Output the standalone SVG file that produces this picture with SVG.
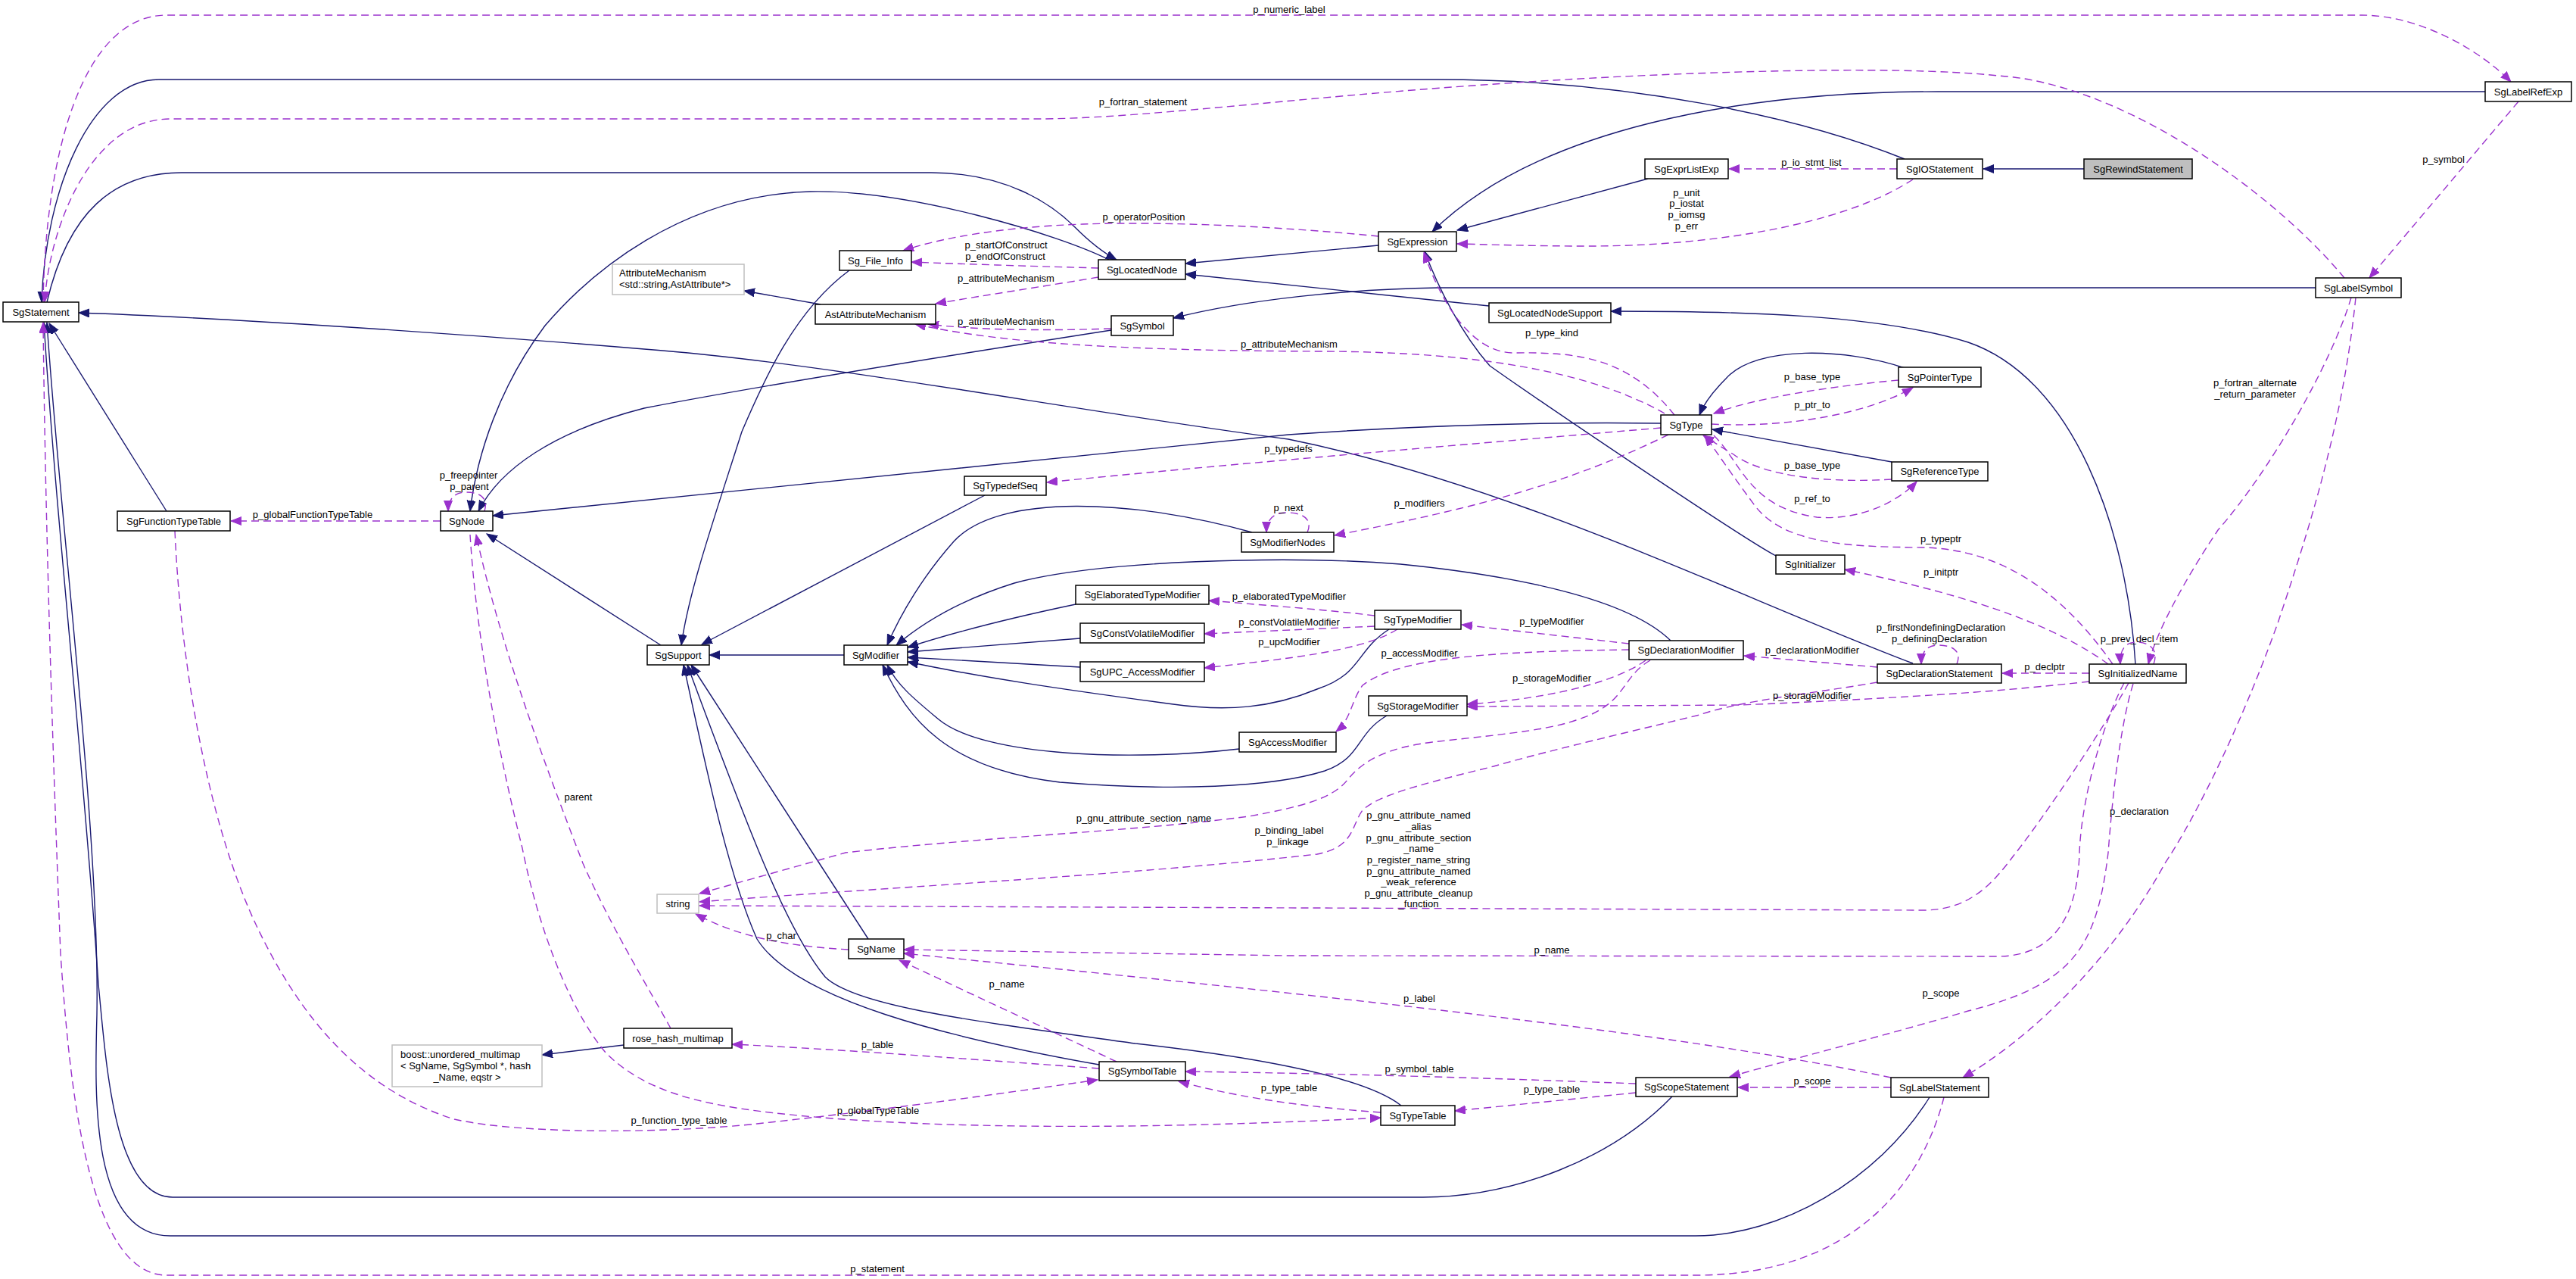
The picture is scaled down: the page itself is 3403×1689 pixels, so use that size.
<svg xmlns="http://www.w3.org/2000/svg" width="3403" height="1689" viewBox="0 0 3403 1689">
<style>
.e{fill:none;stroke:#191970;stroke-width:1.4;marker-end:url(#ab)}
.d{fill:none;stroke:#9a32cd;stroke-width:1.4;stroke-dasharray:10,6;marker-end:url(#ap)}
.n rect{fill:#fff;stroke:#000;stroke-width:1.5}
.g rect{fill:#fff;stroke:#bfbfbf;stroke-width:1.5}
text{font-family:"Liberation Sans",Arial,Helvetica,sans-serif;font-size:13px;fill:#000}
.n text,.l text{text-anchor:middle}
</style>
<defs>
<marker id="ab" markerUnits="userSpaceOnUse" markerWidth="16" markerHeight="13" refX="14" refY="5.5" orient="auto"><path d="M0,0 L14,5.5 L0,11 z" fill="#191970" stroke="#191970"/></marker>
<marker id="ap" markerUnits="userSpaceOnUse" markerWidth="16" markerHeight="13" refX="14" refY="5.5" orient="auto"><path d="M0,0 L14,5.5 L0,11 z" fill="#9a32cd" stroke="#9a32cd"/></marker>
</defs>
<rect width="3403" height="1689" fill="#fff"/>
<g id="edges">
<path class="e" d="M2753,223 L2620,223"/>
<path class="e" d="M2516,210 C2380,155 2150,105 1900,105 L210,105 C120,105 60,250 55,399"/>
<path class="e" d="M62,399 C90,280 150,228 240,228 L1230,228 C1330,228 1390,270 1420,300 C1440,320 1460,335 1475,343"/>
<path class="e" d="M3283,121 L2560,121 C2300,121 2030,170 1892,306"/>
<path class="e" d="M2177,236 L1925,304"/>
<path class="e" d="M1821,324 L1566,348"/>
<path class="e" d="M1967,404 L1566,362"/>
<path class="e" d="M2821,877 C2810,700 2740,500 2600,452 C2480,415 2300,411 2128,411"/>
<path class="e" d="M1465,343 C1400,310 1200,250 1070,253 C900,258 780,360 720,430 C660,510 630,600 621,675"/>
<path class="e" d="M1468,436 C1250,470 1000,510 851,539 C730,570 660,620 632,675"/>
<path class="e" d="M2194,559 C2050,557 1900,560 1702,574 L651,681"/>
<path class="e" d="M873,852 L643,705"/>
<path class="e" d="M220,675 L65,427"/>
<path class="e" d="M2527,876 C2300,790 2000,640 1702,580 C1400,540 1100,480 851,461 C600,440 300,420 104,413"/>
<path class="e" d="M1122,357 C1050,410 1010,500 980,570 C945,680 910,780 900,852"/>
<path class="e" d="M1301,654 L927,851"/>
<path class="e" d="M1115,865 L937,865"/>
<path class="e" d="M1147,1240 L913,878"/>
<path class="e" d="M1452,1406 C1250,1370 1050,1320 1000,1240 C960,1150 930,1000 903,878"/>
<path class="e" d="M1851,1460 C1800,1420 1650,1395 1500,1378 C1300,1350 1130,1330 1090,1290 C1040,1230 990,1100 908,878"/>
<path class="e" d="M1654,703 C1500,660 1320,650 1260,715 C1220,760 1190,810 1172,852"/>
<path class="e" d="M2207,846 C2150,790 2000,760 1850,745 C1700,733 1450,740 1340,770 C1260,795 1210,830 1184,852"/>
<path class="e" d="M1421,798 C1340,815 1260,835 1199,855"/>
<path class="e" d="M1427,843 L1199,861"/>
<path class="e" d="M1427,881 L1199,868"/>
<path class="e" d="M1835,831 C1790,860 1800,890 1740,910 C1680,935 1620,940 1550,930 C1400,910 1300,895 1199,874"/>
<path class="e" d="M1637,989 C1500,1005 1300,1000 1240,950 C1210,925 1185,905 1172,878"/>
<path class="e" d="M1832,945 C1790,970 1800,1000 1750,1018 C1680,1040 1550,1045 1400,1033 C1250,1015 1200,950 1166,878"/>
<path class="e" d="M2516,486 C2440,460 2320,455 2280,500 C2265,515 2252,530 2245,548"/>
<path class="e" d="M2499,610 L2262,567"/>
<path class="e" d="M2346,734 C2300,710 2020,520 1968,483 C1930,440 1900,380 1882,332"/>
<path class="e" d="M3059,380 L1900,380 C1780,382 1650,395 1550,420"/>
<path class="e" d="M824,1380 L716,1393"/>
<path class="e" d="M1084,402 L983,384"/>
<path class="e" d="M2209,1448 C2130,1530 2000,1581 1880,1581 L228,1581 C150,1581 140,1400 130,1300 C110,1000 75,700 58,426"/>
<path class="e" d="M2549,1449 C2480,1560 2350,1632 2240,1632 L225,1632 C120,1632 125,1450 128,1340 C132,1100 80,700 62,426"/>
<path class="d" d="M57,399 C60,200 110,20 220,20 L3120,20 C3200,20 3280,70 3317,108"/>
<path class="d" d="M3097,367 C3000,250 2800,110 2640,100 C2500,85 2200,95 1960,112 C1700,130 1500,157 1370,157 L225,157 C120,157 65,300 59,399"/>
<path class="d" d="M2506,223 L2284,223"/>
<path class="d" d="M2527,237 C2430,300 2250,325 2100,325 C2030,325 1970,323 1925,322"/>
<path class="d" d="M1821,312 C1700,300 1550,292 1430,296 C1320,300 1240,315 1193,331"/>
<path class="d" d="M1451,354 C1380,352 1280,349 1204,346"/>
<path class="d" d="M1451,366 C1380,378 1300,390 1236,401"/>
<path class="d" d="M1468,434 C1380,437 1290,436 1226,428"/>
<path class="d" d="M2199,546 C2100,490 1950,465 1750,464 C1500,463 1330,455 1209,428"/>
<path class="d" d="M2212,548 C2150,470 2080,465 2000,466 C1940,466 1900,390 1881,333"/>
<path class="d" d="M2194,565 C1900,590 1600,615 1383,637"/>
<path class="d" d="M2204,574 C2050,650 1900,680 1763,707"/>
<path class="d" d="M2508,502 C2420,510 2320,525 2264,546"/>
<path class="d" d="M2261,560 C2350,565 2460,550 2527,512"/>
<path class="d" d="M2499,633 C2420,638 2330,630 2290,600 C2270,588 2258,580 2250,575"/>
<path class="d" d="M2264,575 C2300,610 2310,670 2400,683 C2460,688 2510,660 2532,636"/>
<path class="d" d="M2791,877 C2730,790 2650,725 2540,723 C2450,722 2360,720 2320,670 C2290,630 2270,600 2252,575"/>
<path class="d" d="M2785,877 C2720,830 2620,790 2437,752"/>
<path class="d" d="M3327,134 L3130,367"/>
<path class="d" d="M3106,393 C3080,480 3000,620 2930,700 C2890,760 2850,830 2838,877"/>
<path class="d" d="M3112,393 C3095,560 3050,700 3010,820 C2960,960 2900,1080 2860,1140 C2800,1250 2700,1360 2593,1423"/>
<path class="d" d="M2845,877 C2852,858 2840,848 2822,848 C2805,848 2800,862 2801,877"/>
<path class="d" d="M2760,889 L2645,889"/>
<path class="d" d="M2585,877 C2592,860 2580,852 2560,852 C2545,852 2538,862 2538,877"/>
<path class="d" d="M2480,881 L2304,866"/>
<path class="d" d="M2152,850 L1931,825"/>
<path class="d" d="M2152,858 C2000,860 1850,865 1800,905 C1785,925 1785,950 1765,966"/>
<path class="d" d="M2174,872 C2140,897 2060,922 1938,930"/>
<path class="d" d="M2760,900 C2650,912 2552,920 2300,931 L1938,933"/>
<path class="d" d="M1816,813 C1750,805 1680,800 1597,793"/>
<path class="d" d="M1816,827 L1591,837"/>
<path class="d" d="M1846,831 C1800,860 1700,870 1591,882"/>
<path class="d" d="M1727,703 C1735,685 1720,677 1700,677 C1680,677 1673,688 1673,703"/>
<path class="d" d="M2180,872 C2140,895 2150,930 2082,951 C2040,966 1960,972 1892,980 C1830,988 1800,1005 1780,1030 C1760,1055 1720,1065 1650,1078 C1500,1098 1300,1105 1117,1126 L924,1180"/>
<path class="d" d="M2480,901 C2400,915 2300,925 2245,944 C2180,960 2050,990 1973,1012 C1880,1035 1820,1050 1800,1070 C1785,1090 1790,1118 1740,1128 C1500,1155 1200,1170 924,1191"/>
<path class="d" d="M2812,902 C2780,960 2700,1080 2660,1130 C2630,1170 2600,1202 2540,1202 L924,1196"/>
<path class="d" d="M2806,902 C2780,950 2750,1050 2747,1126 C2745,1200 2720,1262 2640,1263 L1702,1262 L1194,1254"/>
<path class="d" d="M2818,903 C2800,960 2790,1060 2785,1126 C2770,1250 2740,1300 2600,1335 C2500,1365 2380,1395 2285,1422"/>
<path class="d" d="M1121,1254 C1050,1250 980,1240 919,1207"/>
<path class="d" d="M1475,1402 L1188,1268"/>
<path class="d" d="M1452,1411 C1300,1400 1100,1385 967,1379"/>
<path class="d" d="M2161,1431 C2000,1425 1800,1418 1566,1415"/>
<path class="d" d="M2161,1443 L1922,1467"/>
<path class="d" d="M1824,1469 C1700,1460 1620,1445 1557,1428"/>
<path class="d" d="M2498,1436 L2296,1436"/>
<path class="d" d="M2498,1423 C2200,1360 1700,1310 1194,1259"/>
<path class="d" d="M2568,1449 C2540,1560 2450,1684 2240,1684 L220,1684 C110,1684 90,1400 80,1260 C70,1000 60,700 57,426"/>
<path class="d" d="M582,688 L305,688"/>
<path class="d" d="M640,675 C646,656 632,650 615,650 C600,650 592,660 592,675"/>
<path class="d" d="M886,1358 C860,1310 810,1230 770,1140 C720,1010 660,850 629,706"/>
<path class="d" d="M621,706 C630,850 660,1000 690,1120 C710,1220 750,1330 800,1390 C860,1450 950,1465 1100,1477 C1300,1492 1550,1490 1824,1476"/>
<path class="d" d="M231,701 C240,900 280,1100 340,1225 C400,1350 480,1440 600,1478 C700,1500 900,1495 1000,1484 C1200,1462 1350,1440 1450,1426"/>
</g>
<g id="edge-labels" class="l">
<text x="1703" y="17">p_numeric_label</text>
<text x="1510" y="139">p_fortran_statement</text>
<text x="1511" y="291">p_operatorPosition</text>
<text x="1329" y="328">p_startOfConstruct</text>
<text x="1328" y="343">p_endOfConstruct</text>
<text x="1329" y="372">p_attributeMechanism</text>
<text x="1329" y="429">p_attributeMechanism</text>
<text x="1703" y="459">p_attributeMechanism</text>
<text x="2393" y="219">p_io_stmt_list</text>
<text x="2228" y="259">p_unit</text>
<text x="2228" y="273">p_iostat</text>
<text x="2228" y="288">p_iomsg</text>
<text x="2228" y="303">p_err</text>
<text x="2050" y="444">p_type_kind</text>
<text x="2394" y="502">p_base_type</text>
<text x="2394" y="539">p_ptr_to</text>
<text x="3228" y="215">p_symbol</text>
<text x="2979" y="510">p_fortran_alternate</text>
<text x="2979" y="525">_return_parameter</text>
<text x="619" y="632">p_freepointer</text>
<text x="620" y="647">p_parent</text>
<text x="413" y="684">p_globalFunctionTypeTable</text>
<text x="764" y="1057">parent</text>
<text x="1702" y="597">p_typedefs</text>
<text x="1702" y="675">p_next</text>
<text x="1703" y="792">p_elaboratedTypeModifier</text>
<text x="1703" y="826">p_constVolatileModifier</text>
<text x="1703" y="852">p_upcModifier</text>
<text x="1511" y="1085">p_gnu_attribute_section_name</text>
<text x="1703" y="1101">p_binding_label</text>
<text x="1701" y="1116">p_linkage</text>
<text x="1875" y="669">p_modifiers</text>
<text x="2394" y="619">p_base_type</text>
<text x="2394" y="663">p_ref_to</text>
<text x="2564" y="716">p_typeptr</text>
<text x="2564" y="760">p_initptr</text>
<text x="2050" y="825">p_typeModifier</text>
<text x="1875" y="867">p_accessModifier</text>
<text x="2050" y="900">p_storageModifier</text>
<text x="2394" y="923">p_storageModifier</text>
<text x="2394" y="863">p_declarationModifier</text>
<text x="2564" y="833">p_firstNondefiningDeclaration</text>
<text x="2562" y="848">p_definingDeclaration</text>
<text x="1874" y="1081">p_gnu_attribute_named</text>
<text x="1874" y="1096">_alias</text>
<text x="1874" y="1111">p_gnu_attribute_section</text>
<text x="1874" y="1125">_name</text>
<text x="1874" y="1140">p_register_name_string</text>
<text x="1874" y="1155">p_gnu_attribute_named</text>
<text x="1874" y="1169">_weak_reference</text>
<text x="1874" y="1184">p_gnu_attribute_cleanup</text>
<text x="1874" y="1198">_function</text>
<text x="2826" y="848">p_prev_decl_item</text>
<text x="2701" y="885">p_declptr</text>
<text x="2826" y="1076">p_declaration</text>
<text x="897" y="1484">p_function_type_table</text>
<text x="1032" y="1240">p_char</text>
<text x="1330" y="1304">p_name</text>
<text x="1159" y="1384">p_table</text>
<text x="1160" y="1471">p_globalTypeTable</text>
<text x="1159" y="1680">p_statement</text>
<text x="1703" y="1441">p_type_table</text>
<text x="2050" y="1259">p_name</text>
<text x="1875" y="1323">p_label</text>
<text x="2564" y="1316">p_scope</text>
<text x="1875" y="1416">p_symbol_table</text>
<text x="2050" y="1443">p_type_table</text>
<text x="2394" y="1432">p_scope</text>
</g>
<g id="SgRewindStatement" class="n"><rect x="2753" y="210" width="143" height="26" style="fill:#bfbfbf"/><text x="2824.5" y="227.5">SgRewindStatement</text></g>
<g id="SgIOStatement" class="n"><rect x="2506" y="210" width="113" height="26"/><text x="2562.5" y="227.5">SgIOStatement</text></g>
<g id="SgStatement" class="n"><rect x="4" y="399" width="100" height="26"/><text x="54" y="416.5">SgStatement</text></g>
<g id="SgLabelRefExp" class="n"><rect x="3283" y="108" width="114" height="26"/><text x="3340" y="125.5">SgLabelRefExp</text></g>
<g id="SgExprListExp" class="n"><rect x="2173" y="210" width="110" height="26"/><text x="2228" y="227.5">SgExprListExp</text></g>
<g id="SgExpression" class="n"><rect x="1821" y="306" width="103" height="26"/><text x="1872.5" y="323.5">SgExpression</text></g>
<g id="SgLocatedNode" class="n"><rect x="1451" y="343" width="115" height="26"/><text x="1508.5" y="360.5">SgLocatedNode</text></g>
<g id="Sg_File_Info" class="n"><rect x="1109" y="331" width="95" height="26"/><text x="1156.5" y="348.5">Sg_File_Info</text></g>
<g id="AstAttributeMechanism" class="n"><rect x="1077" y="402" width="159" height="26"/><text x="1156.5" y="419.5">AstAttributeMechanism</text></g>
<g id="AttributeMechanism" class="g"><rect x="809" y="349" width="174" height="40"/><text x="818" y="364.5">AttributeMechanism</text><text x="818" y="379.5">&lt;std::string,AstAttribute*&gt;</text></g>
<g id="SgSymbol" class="n"><rect x="1468" y="417" width="82" height="26"/><text x="1509" y="434.5">SgSymbol</text></g>
<g id="SgLabelSymbol" class="n"><rect x="3059" y="367" width="113" height="26"/><text x="3115.5" y="384.5">SgLabelSymbol</text></g>
<g id="SgLocatedNodeSupport" class="n"><rect x="1967" y="400" width="161" height="26"/><text x="2047.5" y="417.5">SgLocatedNodeSupport</text></g>
<g id="SgPointerType" class="n"><rect x="2508" y="485" width="109" height="26"/><text x="2562.5" y="502.5">SgPointerType</text></g>
<g id="SgType" class="n"><rect x="2194" y="548" width="67" height="26"/><text x="2227.5" y="565.5">SgType</text></g>
<g id="SgReferenceType" class="n"><rect x="2499" y="610" width="127" height="25"/><text x="2562.5" y="627">SgReferenceType</text></g>
<g id="SgNode" class="n"><rect x="582" y="675" width="69" height="26"/><text x="616.5" y="692.5">SgNode</text></g>
<g id="SgFunctionTypeTable" class="n"><rect x="155" y="675" width="149" height="26"/><text x="229.5" y="692.5">SgFunctionTypeTable</text></g>
<g id="SgTypedefSeq" class="n"><rect x="1274" y="629" width="108" height="25"/><text x="1328" y="646">SgTypedefSeq</text></g>
<g id="SgModifierNodes" class="n"><rect x="1640" y="703" width="122" height="26"/><text x="1701" y="720.5">SgModifierNodes</text></g>
<g id="SgElaboratedTypeModifier" class="n"><rect x="1421" y="773" width="176" height="25"/><text x="1509" y="790">SgElaboratedTypeModifier</text></g>
<g id="SgConstVolatileModifier" class="n"><rect x="1427" y="823" width="164" height="26"/><text x="1509" y="840.5">SgConstVolatileModifier</text></g>
<g id="SgUPC_AccessModifier" class="n"><rect x="1427" y="874" width="164" height="26"/><text x="1509" y="891.5">SgUPC_AccessModifier</text></g>
<g id="SgSupport" class="n"><rect x="855" y="852" width="82" height="26"/><text x="896" y="869.5">SgSupport</text></g>
<g id="SgModifier" class="n"><rect x="1115" y="852" width="84" height="26"/><text x="1157" y="869.5">SgModifier</text></g>
<g id="SgAccessModifier" class="n"><rect x="1637" y="967" width="128" height="26"/><text x="1701" y="984.5">SgAccessModifier</text></g>
<g id="SgTypeModifier" class="n"><rect x="1816" y="806" width="114" height="25"/><text x="1873" y="823">SgTypeModifier</text></g>
<g id="SgDeclarationModifier" class="n"><rect x="2152" y="846" width="151" height="25"/><text x="2227.5" y="863">SgDeclarationModifier</text></g>
<g id="SgStorageModifier" class="n"><rect x="1808" y="919" width="130" height="26"/><text x="1873" y="936.5">SgStorageModifier</text></g>
<g id="SgInitializer" class="n"><rect x="2346" y="733" width="91" height="25"/><text x="2391.5" y="750">SgInitializer</text></g>
<g id="SgDeclarationStatement" class="n"><rect x="2480" y="877" width="164" height="25"/><text x="2562" y="894">SgDeclarationStatement</text></g>
<g id="SgInitializedName" class="n"><rect x="2760" y="877" width="128" height="25"/><text x="2824" y="894">SgInitializedName</text></g>
<g id="string" class="g"><rect x="868" y="1181" width="55" height="25"/><text x="895.5" y="1198" text-anchor="middle">string</text></g>
<g id="SgName" class="n"><rect x="1121" y="1240" width="73" height="26"/><text x="1157.5" y="1257.5">SgName</text></g>
<g id="SgSymbolTable" class="n"><rect x="1452" y="1402" width="114" height="25"/><text x="1509" y="1419">SgSymbolTable</text></g>
<g id="rose_hash_multimap" class="n"><rect x="824" y="1358" width="143" height="26"/><text x="895.5" y="1375.5">rose_hash_multimap</text></g>
<g id="boost_unordered_multimap" class="g"><rect x="518" y="1380" width="198" height="55"/><text x="529" y="1397">boost::unordered_multimap</text><text x="529" y="1411.5">&lt; SgName, SgSymbol *, hash</text><text x="617" y="1426.5" text-anchor="middle">_Name, eqstr &gt;</text></g>
<g id="SgTypeTable" class="n"><rect x="1824" y="1460" width="98" height="26"/><text x="1873" y="1477.5">SgTypeTable</text></g>
<g id="SgScopeStatement" class="n"><rect x="2161" y="1423" width="134" height="25"/><text x="2228" y="1440">SgScopeStatement</text></g>
<g id="SgLabelStatement" class="n"><rect x="2498" y="1423" width="129" height="26"/><text x="2562.5" y="1440.5">SgLabelStatement</text></g>
</svg>
